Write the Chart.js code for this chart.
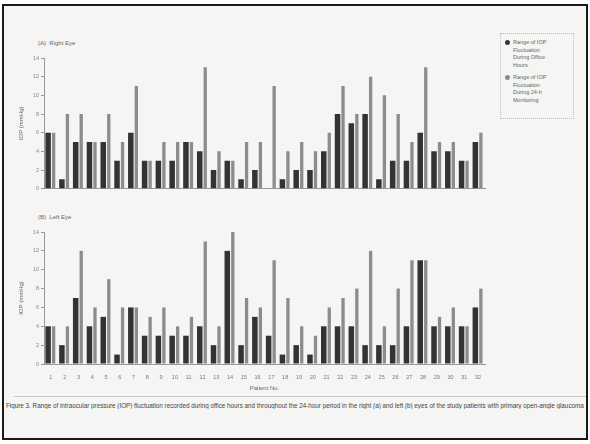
<!DOCTYPE html>
<html>
<head>
<meta charset="utf-8">
<script src="https://cdn.jsdelivr.net/npm/chart.js@4.4.0/dist/chart.umd.min.js"></script>
<style>
  body { margin: 0; width: 590px; height: 444px; background: #fff; font-family: "Liberation Sans", Arial, sans-serif; overflow: hidden; }
  #page { position: absolute; left: 2px; top: 4px; width: 582px; height: 432px; border: 2px solid #1a1a1a; background: #f5f5f3; }
  .wrap { position: absolute; }
  .title { position: absolute; font-size: 6px; color: #666; }
  #legend { position: absolute; left: 500px; top: 33px; width: 72px; height: 84px; border: 1px dotted #bbb; font-size: 5.5px; color: #666; line-height: 7.5px; }
  .item { position: relative; padding-left: 12px; margin-top: 5px; }
  .dot { position: absolute; left: 4px; top: 1px; width: 5px; height: 5px; border-radius: 50%; }
  #rule { position: absolute; left: 14px; top: 396px; width: 572px; height: 1px; background: #c8c8c8; }
  #caption { position: absolute; left: 6px; top: 402px; width: 578px; font-size: 6.3px; color: #444; white-space: nowrap; overflow: hidden; }
</style>
</head>
<body>
<div id="page"></div>
<div class="title" style="left:38px; top:40px;">(A)&nbsp; Right Eye</div>
<div class="wrap" style="left:10px; top:52px; width:478px; height:142px;"><canvas id="rightEye"></canvas></div>
<div id="legend">
  <div class="item"><span class="dot" style="background:#333"></span>Range of IOP<br>Fluctuation<br>During Office<br>Hours</div>
  <div class="item"><span class="dot" style="background:#8c8c8c"></span>Range of IOP<br>Fluctuation<br>During 24-h<br>Monitoring</div>
</div>
<div class="title" style="left:38px; top:214px;">(B)&nbsp; Left Eye</div>
<div class="wrap" style="left:10px; top:226px; width:478px; height:166px;"><canvas id="leftEye"></canvas></div>
<div id="rule"></div>
<div id="caption">Figure 3. Range of intraocular pressure (IOP) fluctuation recorded during office hours and throughout the 24-hour period in the right (a) and left (b) eyes of the study patients with primary open-angle glaucoma.</div>

<script>
// patient numbers 1..32
const patients = ['1','2','3','4','5','6','7','8','9','10','11','12','13','14','15','16',
  '17','18','19','20','21','22','23','24','25','26','27','28','29','30','31','32'];
const yTicks = [0, 2, 4, 6, 8, 10, 12, 14];

// IOP fluctuation range (mmHg), right eye
const rightOffice = [6,1,5,5,5,3,6,3,3,3,5,4,2,3,1,2,0,1,2,2,4,8,7,8,1,3,3,6,4,4,3,5];
const right24h    = [6,8,8,5,8,5,11,3,5,5,5,13,4,3,5,5,11,4,5,4,6,11,8,12,10,8,5,13,5,5,3,6];

// left eye
const leftOffice = [4,2,7,4,5,1,6,3,3,3,3,4,2,12,2,5,3,1,2,1,4,4,4,2,2,2,4,11,4,4,4,6];
const left24h    = [4,4,12,6,9,6,6,5,6,4,5,13,4,14,7,6,11,7,4,3,6,7,8,12,4,8,11,11,5,6,4,8];

const darkColor = '#333333';
const lightColor = '#8c8c8c';
const tinyFont = { family: 'Liberation Sans', size: 5.5 };

function makeChart(id, office, full, showX) {
  const ctx = document.getElementById(id);
  return new Chart(ctx, {
    type: 'bar',
    data: {
      labels: patients,
      datasets: [
        { label: 'Office hours', data: office, backgroundColor: darkColor, barPercentage: 1.0, categoryPercentage: 0.8 },
        { label: '24-h', data: full, backgroundColor: lightColor, barPercentage: 0.6, categoryPercentage: 0.8 }
      ]
    },
    options: {
      responsive: true,
      maintainAspectRatio: false,
      animation: false,
      layout: { padding: { top: 6, right: 3, left: 0, bottom: 0 } },
      plugins: { legend: { display: false }, tooltip: { enabled: false } },
      scales: {
        x: {
          grid: { display: false },
          border: { color: '#999' },
          ticks: { display: showX, autoSkip: false, maxRotation: 0, color: '#777', font: tinyFont, padding: 2 },
          title: { display: showX, text: 'Patient No.', color: '#666', font: { family: 'Liberation Sans', size: 6 }, padding: { top: 3, bottom: 0 } },
          afterFit: (scale) => { scale.height = showX ? 28 : 3; }
        },
        y: {
          min: 0,
          max: 14,
          afterBuildTicks: (scale) => { scale.ticks = yTicks.map(v => ({ value: v })); },
          grid: { drawOnChartArea: false, drawTicks: true, tickLength: 3, color: '#999' },
          border: { color: '#999' },
          ticks: { color: '#888', font: tinyFont, padding: 2 },
          title: { display: true, text: 'IOP (mmHg)', color: '#666', font: { family: 'Liberation Sans', size: 6 }, padding: { top: 8, bottom: 0 } },
          afterFit: (scale) => { scale.width = 34; }
        }
      }
    }
  });
}

makeChart('rightEye', rightOffice, right24h, false);
makeChart('leftEye', leftOffice, left24h, true);
</script>
</body>
</html>
